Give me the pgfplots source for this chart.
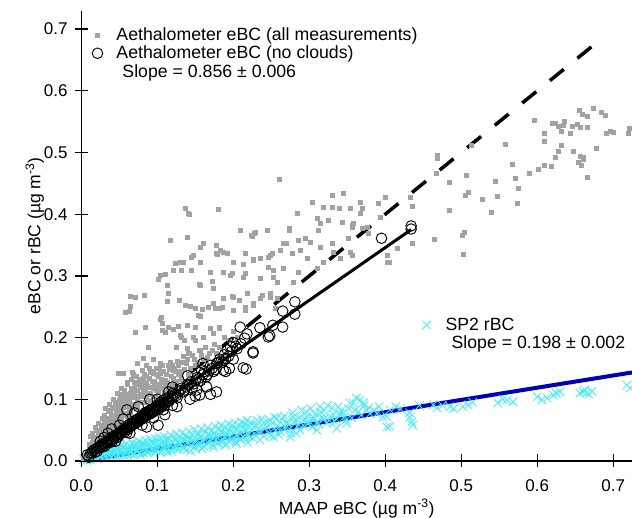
\documentclass[border=0pt]{standalone}
\usepackage{fontspec}
\setmainfont{Liberation Sans}
\usepackage{pgfplots}
\pgfplotsset{compat=1.18}

\definecolor{graypt}{RGB}{162,162,162}
\definecolor{cyanpt}{RGB}{70,235,245}
\definecolor{fitblue}{RGB}{0,0,180}

\pgfplotsset{
  common/.style={scale only axis, width=550.7pt, height=450.4pt,
    xmin=0, xmax=0.7246, ymin=0, ymax=0.73,
    font=\fontsize{17}{20}\selectfont},
  legimg/.style={legend image code/.code={%
      \path[draw=none, fill=none] (0pt,0pt) -- (30pt,0pt);
      \draw[##1] plot coordinates {(13pt,0pt)};}},
}

\begin{document}
\begin{tikzpicture}
% SP2 data and fit
\begin{axis}[common, hide axis, legimg,
    legend style={draw=none, fill=none, at={(axis cs:0.433,0.2385)}, anchor=north west,
      legend cell align=left, font=\fontsize{17.7}{20}\selectfont, row sep=0pt}]
  \addplot[only marks, mark=x, mark size=6pt, cyanpt, line width=0.8pt] table {
    0.718 0.123
    0.722 0.118
    0.660 0.112
    0.656 0.110
    0.665 0.110
    0.672 0.113
    0.668 0.108
    0.662 0.115
    0.613 0.102
    0.606 0.099
    0.630 0.112
    0.621 0.107
    0.625 0.110
    0.600 0.104
    0.548 0.094
    0.560 0.099
    0.568 0.096
    0.555 0.100
    0.502 0.088
    0.509 0.091
    0.485 0.088
    0.515 0.095
    0.490 0.085
    0.475 0.090
    0.468 0.086
    0.463 0.091
    0.445 0.090
    0.432 0.071
    0.435 0.063
    0.436 0.058
    0.432 0.078
    0.420 0.084
    0.414 0.088
    0.402 0.055
    0.406 0.083
    0.397 0.071
    0.392 0.088
    0.385 0.082
    0.378 0.086
    0.367 0.099
    0.358 0.094
    0.362 0.102
    0.372 0.090
    0.365 0.080
    0.231 0.066
    0.240 0.061
    0.248 0.066
    0.257 0.069
    0.266 0.058
    0.279 0.072
    0.288 0.050
    0.297 0.072
    0.305 0.066
    0.314 0.088
    0.323 0.061
    0.332 0.075
    0.340 0.077
    0.349 0.061
    0.354 0.094
    0.371 0.094
    0.380 0.077
    0.389 0.077
    0.402 0.072
    0.406 0.056
    0.222 0.039
    0.235 0.034
    0.253 0.039
    0.275 0.039
    0.283 0.045
    0.310 0.050
    0.336 0.053
    0.003 0.002
    0.006 0.006
    0.008 0.003
    0.010 0.010
    0.012 0.004
    0.014 0.008
    0.016 0.012
    0.018 0.005
    0.020 0.009
    0.022 0.014
    0.025 0.006
    0.027 0.011
    0.030 0.016
    0.032 0.008
    0.035 0.012
    0.038 0.018
    0.040 0.006
    0.043 0.014
    0.046 0.020
    0.048 0.010
    0.051 0.016
    0.054 0.022
    0.057 0.008
    0.060 0.014
    0.063 0.020
    0.066 0.011
    0.069 0.026
    0.072 0.016
    0.075 0.021
    0.078 0.010
    0.081 0.018
    0.084 0.027
    0.087 0.014
    0.090 0.022
    0.093 0.030
    0.096 0.012
    0.099 0.020
    0.102 0.026
    0.105 0.017
    0.108 0.033
    0.111 0.022
    0.114 0.014
    0.117 0.028
    0.120 0.021
    0.123 0.035
    0.126 0.018
    0.129 0.026
    0.132 0.032
    0.135 0.020
    0.138 0.038
    0.141 0.027
    0.144 0.016
    0.147 0.034
    0.150 0.024
    0.153 0.041
    0.156 0.030
    0.159 0.020
    0.162 0.036
    0.165 0.027
    0.168 0.044
    0.171 0.033
    0.174 0.022
    0.177 0.040
    0.180 0.030
    0.183 0.048
    0.186 0.035
    0.189 0.025
    0.192 0.043
    0.195 0.032
    0.198 0.050
    0.201 0.038
    0.204 0.028
    0.207 0.046
    0.210 0.036
    0.213 0.054
    0.216 0.042
    0.219 0.030
    0.224 0.050
    0.228 0.044
    0.232 0.058
    0.236 0.048
    0.240 0.040
    0.244 0.055
    0.248 0.046
    0.252 0.062
    0.256 0.050
    0.260 0.042
    0.264 0.068
    0.268 0.052
    0.272 0.060
    0.276 0.045
    0.280 0.064
    0.284 0.056
    0.288 0.070
    0.292 0.058
    0.296 0.080
    0.300 0.064
    0.304 0.055
    0.308 0.076
    0.312 0.060
    0.316 0.070
    0.320 0.082
    0.326 0.066
    0.330 0.086
    0.335 0.068
    0.342 0.082
    0.346 0.072
    0.352 0.085
    0.356 0.070
    0.004 0.004
    0.007 0.001
    0.009 0.007
    0.011 0.002
    0.013 0.011
    0.015 0.005
    0.017 0.009
    0.019 0.014
    0.021 0.004
    0.023 0.010
    0.024 0.016
    0.026 0.008
    0.028 0.014
    0.029 0.019
    0.031 0.011
    0.033 0.005
    0.034 0.017
    0.036 0.009
    0.037 0.022
    0.039 0.013
    0.041 0.018
    0.042 0.010
    0.044 0.024
    0.045 0.016
    0.047 0.006
    0.049 0.020
    0.050 0.012
    0.052 0.026
    0.053 0.018
    0.055 0.010
    0.056 0.023
    0.058 0.016
    0.059 0.028
    0.061 0.009
    0.062 0.019
    0.064 0.025
    0.065 0.014
    0.067 0.020
    0.068 0.030
    0.070 0.011
    0.071 0.022
    0.073 0.027
    0.074 0.017
    0.076 0.032
    0.077 0.014
    0.079 0.024
    0.080 0.029
    0.082 0.012
    0.083 0.022
    0.085 0.033
    0.086 0.018
    0.088 0.027
    0.089 0.015
    0.091 0.035
    0.092 0.024
    0.094 0.019
    0.095 0.029
    0.097 0.037
    0.098 0.016
    0.100 0.031
    0.101 0.024
    0.103 0.038
    0.104 0.014
    0.106 0.029
    0.107 0.021
    0.109 0.040
    0.110 0.027
    0.112 0.033
    0.113 0.018
    0.115 0.036
    0.116 0.025
    0.118 0.042
    0.119 0.016
    0.121 0.030
    0.122 0.038
    0.124 0.024
    0.125 0.044
    0.127 0.031
    0.128 0.020
    0.130 0.039
    0.131 0.028
    0.133 0.046
    0.134 0.023
    0.136 0.034
    0.137 0.042
    0.139 0.018
    0.140 0.031
    0.142 0.048
    0.143 0.036
    0.145 0.025
    0.146 0.043
    0.148 0.030
    0.149 0.051
    0.151 0.019
    0.152 0.034
    0.154 0.045
    0.155 0.027
    0.157 0.039
    0.158 0.052
    0.160 0.031
    0.161 0.024
    0.163 0.047
    0.164 0.038
    0.166 0.054
    0.167 0.029
    0.169 0.041
    0.170 0.035
    0.172 0.050
    0.173 0.026
    0.175 0.045
    0.176 0.056
    0.178 0.035
    0.179 0.028
    0.181 0.052
    0.182 0.041
    0.184 0.058
    0.185 0.031
    0.187 0.046
    0.188 0.038
    0.190 0.055
    0.191 0.027
    0.193 0.049
    0.194 0.060
    0.196 0.040
    0.197 0.034
    0.199 0.057
    0.200 0.045
    0.202 0.062
    0.203 0.031
    0.205 0.052
    0.206 0.041
    0.208 0.058
    0.209 0.035
    0.211 0.063
    0.212 0.047
    0.214 0.039
    0.215 0.060
    0.217 0.051
    0.218 0.066
    0.220 0.043
    0.221 0.056
    0.223 0.062
    0.226 0.037
    0.229 0.058
    0.233 0.047
    0.237 0.068
    0.241 0.052
    0.245 0.063
    0.249 0.041
    0.254 0.071
    0.258 0.057
    0.262 0.048
    0.267 0.073
    0.271 0.063
    0.274 0.052
    0.278 0.078
    0.282 0.066
    0.286 0.058
    0.290 0.082
    0.294 0.068
    0.298 0.060
    0.302 0.085
    0.306 0.070
    0.311 0.062
    0.315 0.079
    0.319 0.068
    0.324 0.090
    0.328 0.072
    0.333 0.064
    0.338 0.088
    0.344 0.078
    0.348 0.066
    0.360 0.082
    0.368 0.074
    0.375 0.082
  };
  \addlegendentry{SP2 rBC}
  \addlegendimage{empty legend}
  \addlegendentry{\hspace*{6pt}Slope = 0.198 ± 0.002}
  \addplot[fitblue, line width=4pt, forget plot] coordinates {(0.005,0.001) (0.7246,0.1435)};
\end{axis}

\begin{axis}[common, axis lines=left, axis line style={line width=1.3pt, -},
    tick align=center, major tick length=13pt, tick style={line width=1.3pt, black},
    xtick={0,0.1,0.2,0.3,0.4,0.5,0.6,0.7}, ytick={0,0.1,0.2,0.3,0.4,0.5,0.6,0.7},
    minor tick num=0,
    /pgf/number format/.cd, fixed, fixed zerofill, precision=1, assume math mode=true,
    /pgfplots/.cd,
    xticklabel style={anchor=north, inner sep=0pt, yshift=-12pt},
    yticklabel style={anchor=east, inner sep=0pt, xshift=-7pt},
    xlabel={MAAP eBC (µg m\textsuperscript{-3})},
    ylabel={eBC or rBC (µg m\textsuperscript{-3})},
    every axis x label/.style={at={(axis description cs:0.5,-0.1177)}, anchor=base,
      font=\fontsize{17.5}{20}\selectfont},
    every axis y label/.style={at={(axis description cs:-0.0745,0.5)}, anchor=base, rotate=90,
      font=\fontsize{17.5}{20}\selectfont},
    legimg,
    legend style={draw=none, fill=none, at={(axis cs:0.0,0.709)}, anchor=north west,
      legend cell align=left, font=\fontsize{17.7}{20}\selectfont, row sep=0pt}]
  \addplot[only marks, mark=square*, mark size=2pt, graypt] table {
    0.596 0.553
    0.619 0.548
    0.624 0.548
    0.636 0.551
    0.627 0.543
    0.634 0.545
    0.646 0.543
    0.652 0.546
    0.656 0.541
    0.665 0.541
    0.655 0.569
    0.659 0.562
    0.665 0.559
    0.673 0.571
    0.684 0.566
    0.689 0.561
    0.609 0.532
    0.609 0.519
    0.631 0.535
    0.643 0.532
    0.690 0.532
    0.696 0.535
    0.700 0.533
    0.719 0.532
    0.721 0.540
    0.631 0.512
    0.627 0.502
    0.623 0.493
    0.647 0.502
    0.656 0.494
    0.661 0.493
    0.654 0.485
    0.658 0.480
    0.660 0.489
    0.677 0.507
    0.665 0.460
    0.618 0.477
    0.609 0.480
    0.601 0.473
    0.589 0.467
    0.558 0.514
    0.513 0.512
    0.468 0.496
    0.468 0.491
    0.467 0.467
    0.506 0.464
    0.484 0.452
    0.567 0.481
    0.571 0.459
    0.575 0.442
    0.573 0.418
    0.544 0.454
    0.547 0.429
    0.528 0.425
    0.539 0.404
    0.509 0.436
    0.505 0.431
    0.484 0.407
    0.504 0.371
    0.501 0.366
    0.464 0.360
    0.502 0.335
    0.435 0.353
    0.405 0.323
    0.402 0.334
    0.367 0.402
    0.357 0.382
    0.370 0.378
    0.377 0.370
    0.343 0.387
    0.314 0.386
    0.325 0.391
    0.310 0.394
    0.284 0.402
    0.273 0.378
    0.294 0.361
    0.301 0.355
    0.314 0.347
    0.330 0.353
    0.331 0.339
    0.351 0.361
    0.354 0.339
    0.356 0.334
    0.340 0.329
    0.318 0.323
    0.297 0.329
    0.288 0.342
    0.277 0.337
    0.262 0.342
    0.251 0.337
    0.265 0.353
    0.244 0.374
    0.228 0.370
    0.226 0.326
    0.215 0.337
    0.213 0.298
    0.235 0.297
    0.252 0.310
    0.265 0.313
    0.285 0.306
    0.310 0.313
    0.279 0.290
    0.258 0.290
    0.248 0.272
    0.235 0.264
    0.226 0.253
    0.258 0.264
    0.255 0.248
    0.215 0.250
    0.137 0.410
    0.140 0.402
    0.180 0.408
    0.139 0.363
    0.160 0.353
    0.156 0.347
    0.178 0.350
    0.209 0.374
    0.223 0.366
    0.229 0.371
    0.304 0.420
    0.330 0.431
    0.344 0.434
    0.318 0.412
    0.330 0.412
    0.339 0.410
    0.354 0.410
    0.367 0.420
    0.369 0.410
    0.390 0.418
    0.400 0.428
    0.433 0.428
    0.435 0.413
    0.358 0.386
    0.356 0.379
    0.312 0.374
    0.285 0.358
    0.274 0.374
    0.270 0.353
    0.248 0.334
    0.235 0.329
    0.200 0.323
    0.178 0.337
    0.187 0.339
    0.147 0.334
    0.134 0.323
    0.145 0.310
    0.156 0.323
    0.169 0.306
    0.187 0.306
    0.196 0.301
    0.215 0.305
    0.252 0.298
    0.156 0.285
    0.173 0.280
    0.187 0.264
    0.200 0.266
    0.218 0.272
    0.248 0.266
    0.167 0.250
    0.173 0.256
    0.182 0.248
    0.200 0.245
    0.215 0.245
    0.226 0.256
    0.150 0.248
    0.137 0.253
    0.154 0.237
    0.139 0.220
    0.150 0.217
    0.182 0.217
    0.147 0.201
    0.139 0.183
    0.156 0.180
    0.173 0.207
    0.132 0.201
    0.140 0.175
    0.393 0.395
    0.376 0.379
    0.403 0.323
    0.415 0.345
    0.260 0.457
    0.142 0.400
    0.225 0.365
    0.117 0.358
    0.179 0.335
    0.183 0.342
    0.192 0.337
    0.145 0.331
    0.157 0.323
    0.130 0.323
    0.123 0.321
    0.104 0.301
    0.110 0.303
    0.121 0.310
    0.132 0.310
    0.213 0.319
    0.226 0.327
    0.246 0.331
    0.101 0.295
    0.113 0.285
    0.155 0.287
    0.172 0.292
    0.198 0.305
    0.246 0.314
    0.064 0.267
    0.071 0.266
    0.083 0.269
    0.114 0.272
    0.058 0.241
    0.063 0.243
    0.065 0.251
    0.113 0.259
    0.129 0.261
    0.143 0.251
    0.159 0.246
    0.176 0.248
    0.185 0.250
    0.198 0.267
    0.208 0.261
    0.238 0.269
    0.105 0.233
    0.104 0.230
    0.107 0.224
    0.114 0.217
    0.121 0.214
    0.084 0.217
    0.071 0.209
    0.110 0.209
    0.127 0.219
    0.156 0.235
    0.181 0.216
    0.106 0.212
    0.130 0.204
    0.136 0.195
    0.088 0.185
    0.081 0.167
    0.074 0.159
    0.048 0.143
    0.055 0.143
    0.067 0.144
    0.080 0.147
    0.090 0.144
    0.104 0.159
    0.117 0.160
    0.121 0.147
    0.130 0.143
    0.110 0.131
    0.005 0.008
    0.008 0.015
    0.010 0.022
    0.012 0.012
    0.014 0.030
    0.016 0.020
    0.018 0.038
    0.020 0.028
    0.022 0.045
    0.024 0.034
    0.026 0.055
    0.028 0.040
    0.030 0.062
    0.031 0.048
    0.033 0.070
    0.035 0.055
    0.036 0.080
    0.038 0.045
    0.040 0.066
    0.041 0.088
    0.043 0.058
    0.045 0.075
    0.046 0.095
    0.048 0.062
    0.050 0.085
    0.051 0.105
    0.053 0.070
    0.055 0.092
    0.056 0.115
    0.058 0.078
    0.060 0.100
    0.061 0.125
    0.063 0.085
    0.065 0.110
    0.066 0.132
    0.068 0.092
    0.070 0.118
    0.072 0.138
    0.073 0.100
    0.075 0.125
    0.077 0.108
    0.079 0.132
    0.081 0.115
    0.083 0.140
    0.085 0.100
    0.087 0.122
    0.089 0.150
    0.091 0.110
    0.093 0.130
    0.095 0.118
    0.098 0.140
    0.100 0.125
    0.102 0.150
    0.105 0.132
    0.108 0.145
    0.111 0.128
    0.114 0.155
    0.118 0.138
    0.122 0.150
    0.126 0.162
    0.130 0.145
    0.134 0.170
    0.138 0.158
    0.142 0.175
    0.148 0.165
    0.152 0.160
    0.158 0.172
    0.165 0.168
    0.172 0.180
    0.178 0.175
    0.012 0.040
    0.018 0.055
    0.022 0.062
    0.027 0.070
    0.032 0.085
    0.037 0.092
    0.042 0.100
    0.047 0.110
    0.052 0.118
    0.020 0.050
    0.025 0.025
    0.029 0.058
    0.034 0.040
    0.039 0.075
    0.044 0.050
    0.049 0.090
    0.054 0.060
    0.059 0.108
    0.064 0.075
    0.069 0.128
    0.074 0.085
    0.078 0.095
    0.082 0.125
    0.086 0.138
    0.090 0.098
    0.094 0.142
    0.097 0.105
    0.101 0.112
    0.106 0.118
    0.110 0.122
    0.115 0.118
    0.120 0.125
    0.125 0.130
    0.132 0.132
    0.140 0.140
    0.003 0.004
    0.007 0.010
    0.015 0.045
    0.030 0.075
    0.045 0.085
    0.058 0.095
    0.071 0.105
    0.084 0.112
    0.096 0.122
    0.010 0.016
    0.013 0.024
    0.017 0.028
    0.019 0.033
    0.021 0.036
    0.023 0.030
    0.026 0.044
    0.028 0.050
    0.031 0.038
    0.033 0.058
    0.034 0.048
    0.036 0.064
    0.037 0.052
    0.039 0.060
    0.041 0.072
    0.042 0.055
    0.044 0.068
    0.046 0.080
    0.047 0.058
    0.049 0.072
    0.050 0.098
    0.052 0.080
    0.053 0.094
    0.055 0.075
    0.057 0.100
    0.058 0.088
    0.060 0.072
    0.062 0.108
    0.063 0.096
    0.065 0.082
    0.066 0.118
    0.067 0.104
    0.069 0.088
    0.070 0.112
    0.071 0.125
    0.073 0.092
    0.074 0.115
    0.076 0.132
    0.077 0.096
    0.078 0.120
    0.080 0.105
    0.081 0.135
    0.083 0.095
    0.084 0.118
    0.086 0.128
    0.088 0.108
    0.089 0.135
    0.091 0.120
    0.092 0.145
    0.094 0.105
    0.096 0.130
    0.098 0.115
    0.099 0.150
    0.101 0.138
    0.103 0.120
    0.104 0.142
    0.106 0.128
    0.107 0.155
    0.109 0.112
    0.112 0.140
    0.113 0.128
    0.116 0.148
    0.118 0.122
    0.119 0.155
    0.121 0.135
    0.124 0.145
    0.127 0.140
    0.128 0.155
    0.131 0.135
    0.133 0.160
    0.136 0.148
    0.139 0.165
    0.143 0.150
    0.146 0.172
    0.150 0.155
    0.155 0.180
    0.160 0.165
    0.163 0.185
    0.168 0.175
    0.175 0.190
    0.182 0.185
    0.188 0.200
    0.195 0.195
    0.200 0.210
    0.205 0.200
    0.160 0.200
    0.170 0.215
    0.150 0.195
    0.125 0.185
    0.095 0.165
    0.085 0.155
    0.068 0.140
    0.060 0.128
    0.052 0.108
    0.044 0.092
    0.038 0.082
    0.032 0.066
    0.027 0.058
    0.024 0.048
    0.016 0.035
    0.011 0.028
  };
  \addlegendentry{Aethalometer eBC (all measurements)}
  \addplot[only marks, mark=o, mark size=5.3pt, black, line width=0.9pt] table {
    0.434 0.381
    0.434 0.376
    0.395 0.361
    0.281 0.258
    0.265 0.243
    0.281 0.238
    0.265 0.217
    0.252 0.220
    0.248 0.203
    0.246 0.201
    0.235 0.216
    0.226 0.175
    0.218 0.206
    0.215 0.199
    0.209 0.217
    0.213 0.151
    0.217 0.149
    0.200 0.192
    0.196 0.186
    0.192 0.180
    0.203 0.186
    0.226 0.177
    0.178 0.112
    0.187 0.147
    0.126 0.088
    0.152 0.115
    0.156 0.107
    0.113 0.096
    0.108 0.083
    0.086 0.055
    0.101 0.058
    0.060 0.083
    0.073 0.066
    0.064 0.045
    0.008 0.010
    0.012 0.012
    0.015 0.016
    0.018 0.014
    0.020 0.020
    0.022 0.022
    0.025 0.024
    0.028 0.023
    0.030 0.028
    0.032 0.030
    0.035 0.032
    0.038 0.030
    0.040 0.036
    0.042 0.040
    0.045 0.042
    0.047 0.038
    0.050 0.046
    0.052 0.048
    0.055 0.050
    0.057 0.047
    0.060 0.054
    0.062 0.058
    0.065 0.056
    0.067 0.062
    0.070 0.060
    0.072 0.066
    0.075 0.064
    0.077 0.070
    0.080 0.068
    0.082 0.074
    0.085 0.075
    0.087 0.078
    0.090 0.076
    0.092 0.082
    0.095 0.080
    0.097 0.086
    0.100 0.088
    0.102 0.084
    0.105 0.092
    0.108 0.095
    0.110 0.090
    0.113 0.100
    0.116 0.098
    0.120 0.104
    0.123 0.108
    0.126 0.102
    0.130 0.114
    0.134 0.112
    0.138 0.120
    0.142 0.124
    0.146 0.118
    0.150 0.130
    0.155 0.134
    0.160 0.140
    0.164 0.136
    0.168 0.146
    0.172 0.150
    0.176 0.148
    0.180 0.160
    0.184 0.162
    0.190 0.166
    0.040 0.052
    0.035 0.045
    0.055 0.068
    0.075 0.088
    0.090 0.100
    0.060 0.046
    0.080 0.058
    0.045 0.032
    0.095 0.070
    0.115 0.112
    0.140 0.138
    0.010 0.006
    0.014 0.013
    0.017 0.018
    0.021 0.016
    0.024 0.021
    0.027 0.027
    0.029 0.025
    0.031 0.024
    0.034 0.029
    0.036 0.035
    0.039 0.034
    0.041 0.032
    0.043 0.037
    0.046 0.041
    0.048 0.043
    0.049 0.040
    0.051 0.044
    0.053 0.046
    0.054 0.049
    0.056 0.052
    0.058 0.050
    0.059 0.053
    0.061 0.051
    0.063 0.055
    0.064 0.060
    0.066 0.057
    0.068 0.059
    0.069 0.063
    0.071 0.061
    0.073 0.063
    0.074 0.068
    0.076 0.066
    0.078 0.067
    0.079 0.072
    0.081 0.070
    0.083 0.071
    0.084 0.078
    0.086 0.073
    0.088 0.076
    0.089 0.081
    0.091 0.079
    0.093 0.078
    0.094 0.084
    0.096 0.082
    0.098 0.085
    0.099 0.090
    0.101 0.086
    0.103 0.090
    0.104 0.095
    0.106 0.088
    0.107 0.098
    0.109 0.093
    0.111 0.096
    0.112 0.102
    0.114 0.097
    0.118 0.101
    0.121 0.110
    0.125 0.106
    0.128 0.112
    0.132 0.118
    0.136 0.115
    0.140 0.124
    0.144 0.128
    0.148 0.125
    0.152 0.135
    0.157 0.130
    0.162 0.145
    0.166 0.140
    0.170 0.155
    0.174 0.145
    0.178 0.158
    0.182 0.165
    0.186 0.160
    0.188 0.172
    0.194 0.170
    0.198 0.178
    0.205 0.182
    0.210 0.190
    0.200 0.165
    0.165 0.120
    0.170 0.108
    0.143 0.100
    0.150 0.105
    0.160 0.158
    0.120 0.120
    0.100 0.100
    0.070 0.078
    0.050 0.058
    0.030 0.038
    0.025 0.032
    0.110 0.075
    0.120 0.090
    0.195 0.150
    0.190 0.145
    0.158 0.148
  };
  \addlegendentry{Aethalometer eBC (no clouds)}
  \addlegendimage{empty legend}
  \addlegendentry{\hspace*{6pt}Slope = 0.856 ± 0.006}
  \addplot[black, line width=3.5pt, dash pattern=on 18pt off 17.5pt, forget plot] coordinates {(0,0) (0.687,0.687)};
  \addplot[black, line width=3pt, forget plot] coordinates {(0,0.004) (0.434,0.375)};
\end{axis}
\pgfresetboundingbox
\path[use as bounding box] (-81.3pt,-57pt) rectangle (550.7pt,461pt);
\end{tikzpicture}
\end{document}
